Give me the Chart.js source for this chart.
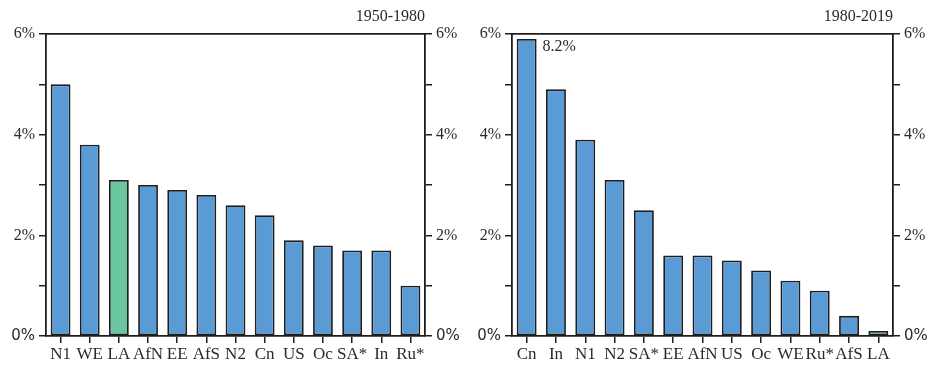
<!DOCTYPE html>
<html>
<head>
<meta charset="utf-8">
<script src="https://cdn.jsdelivr.net/npm/chart.js@4/dist/chart.umd.min.js"></script>
<style>
  html, body { margin: 0; padding: 0; background: #fff; }
  #wrap { position: relative; width: 928px; height: 365px; }
  .panel { position: absolute; top: 0; height: 365px; }
  #p1 { left: 0; width: 464px; }
  #p2 { left: 464px; width: 464px; }
</style>
</head>
<body>
<div id="wrap">
  <div class="panel" id="p1"><canvas id="c1"></canvas></div>
  <div class="panel" id="p2"><canvas id="c2"></canvas></div>
</div>
<script>
// ---- data ----
const categories1 = ["N1", "WE", "LA", "AfN", "EE", "AfS", "N2", "Cn", "US", "Oc", "SA*", "In", "Ru*"];
const values1     = [5.0, 3.8, 3.1, 3.0, 2.9, 2.8, 2.6, 2.4, 1.9, 1.8, 1.7, 1.7, 1.0];
const title1 = "1950-1980";

const categories2 = ["Cn", "In", "N1", "N2", "SA*", "EE", "AfN", "US", "Oc", "WE", "Ru*", "AfS", "LA"];
const values2     = [8.2, 4.9, 3.9, 3.1, 2.5, 1.6, 1.6, 1.5, 1.3, 1.1, 0.9, 0.4, 0.1];
const title2 = "1980-2019";

const yTicks = [0, 1, 2, 3, 4, 5, 6];
const yLabelled = [0, 2, 4, 6];
const highlight = "LA";
const displayCap = 5.9; // bars above the axis maximum are truncated and labelled

// ---- styles ----
const BLUE = "#5b9bd5";
const GREEN = "#6cc69f";
const INK = "#1e1e1e";
const TEXT = "#2a2a2a";
const SERIF = "'Liberation Serif', 'DejaVu Serif', serif";
const SANS = "'DejaVu Sans', 'Liberation Sans', sans-serif";

function makeChart(canvasId, cats, vals, title, geo) {
  const shown = vals.map(v => Math.min(v, displayCap));
  const colors = cats.map(c => c === highlight ? GREEN : BLUE);

  const decor = {
    id: "decor",
    afterDraw(chart) {
      const ctx = chart.ctx;
      const a = chart.chartArea;
      ctx.save();
      ctx.fillStyle = TEXT;
      ctx.font = "16px " + SERIF;
      ctx.textAlign = "right";
      ctx.textBaseline = "middle";
      ctx.fillText(title, a.right, 17);
      // labels for truncated bars
      const meta = chart.getDatasetMeta(0);
      vals.forEach((v, i) => {
        if (v > displayCap) {
          const bar = meta.data[i];
          ctx.textAlign = "left";
          ctx.fillText(v.toFixed(1) + "%", bar.x + bar.width / 2 + 6, bar.y + 8);
        }
      });
      ctx.restore();
    }
  };

  const yCommon = {
    min: 0, max: 6,
    afterBuildTicks(scale) { scale.ticks = yTicks.map(v => ({ value: v })); },
    grid: { display: true, drawOnChartArea: false, drawTicks: true, tickLength: 7, color: INK, lineWidth: 1.5 },
    border: { display: true, color: INK, width: 1.8 },
    ticks: {
      padding: 4,
      color: TEXT,
      font: (c) => (c.tick && c.tick.value === 0) ? { family: SANS, size: 15 } : { family: SERIF, size: 16 },
      callback: (v) => yLabelled.includes(v) ? v + "%" : ""
    }
  };

  return new Chart(document.getElementById(canvasId), {
    type: "bar",
    data: {
      labels: cats,
      datasets: [{
        data: shown,
        backgroundColor: colors,
        borderColor: INK,
        borderWidth: 1.8,
        borderSkipped: false,
        barPercentage: 0.68,
        categoryPercentage: 1.0
      }]
    },
    options: {
      responsive: false,
      animation: false,
      devicePixelRatio: 1,
      layout: { padding: { top: 34, left: 0, right: 0, bottom: 0 } },
      plugins: { legend: { display: false }, tooltip: { enabled: false }, title: { display: false } },
      scales: {
        x: {
          position: "bottom",
          grid: { display: true, drawOnChartArea: false, drawTicks: true, tickLength: 7, offset: false, color: INK, lineWidth: 1.5 },
          border: { display: true, color: INK, width: 1.8 },
          ticks: { color: TEXT, font: { family: SERIF, size: 17 }, padding: 1, maxRotation: 0, autoSkip: false },
          afterFit(s) { s.height = geo.bottomH; }
        },
        xTop: {
          type: "category",
          position: "top",
          labels: cats,
          grid: { display: false },
          border: { display: true, color: INK, width: 1.8 },
          ticks: { display: false },
          afterFit(s) { s.height = 0; }
        },
        y: Object.assign({}, yCommon, { position: "left", afterFit(s) { s.width = geo.leftW; } }),
        y2: Object.assign({}, yCommon, { position: "right", afterFit(s) { s.width = geo.rightW; } })
      }
    },
    plugins: [decor]
  });
}

function sizeCanvas(id) {
  const c = document.getElementById(id);
  c.width = 464; c.height = 365;
  c.style.width = "464px"; c.style.height = "365px";
}
sizeCanvas("c1");
sizeCanvas("c2");

makeChart("c1", categories1, values1, title1, { leftW: 46, rightW: 39, bottomH: 29 });
makeChart("c2", categories2, values2, title2, { leftW: 48, rightW: 35, bottomH: 29 });
</script>
</body>
</html>
